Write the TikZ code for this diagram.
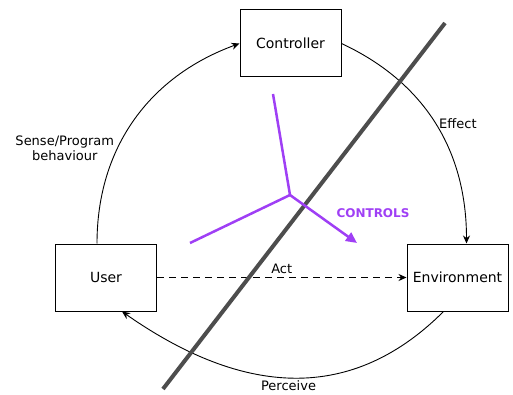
\documentclass[tikz,border=0pt]{standalone}
\usepackage{fontspec}
\setmainfont{DejaVu Sans}
\usetikzlibrary{arrows.meta}
\definecolor{ctlpurple}{HTML}{9F3FF5}
\definecolor{slashgray}{HTML}{4D4D4D}

\begin{document}
\begin{tikzpicture}[x=1pt,y=1pt,
    box/.style={draw,line width=1pt,minimum width=101pt,minimum height=67pt,
      inner sep=0pt,font=\fontsize{14}{16}\selectfont},
    lbl/.style={font=\fontsize{13}{15}\selectfont,align=center},
    flow/.style={line width=0.9pt,-{Stealth[length=8pt,width=7pt]}},
    ctl/.style={draw=ctlpurple,line width=2.5pt}]
    \useasboundingbox (0,0) rectangle (513,394);

    % the three boxes
    \foreach \name/\pos/\txt in {ctrl/{(290.5,350.5)}/Controller,
                                 user/{(106,116.5)}/User,
                                 env/{(457.5,116.5)}/Environment}
    {
      \node[box] (\name) at \pos {\txt};
    }

    % round the loop
    \draw[flow] ([xshift=-9pt]user.north) to[out=90,in=200]
      node[lbl,left,pos=.37] {Sense/Program\\behaviour} (ctrl.west);
    \draw[flow] (ctrl.east) to[out=-25,in=90]
      node[lbl,right,pos=.5] {Effect} ([xshift=9pt]env.north);
    \draw[flow] ([xshift=-14pt]env.south) to[out=-135,in=-35,looseness=1.1]
      node[lbl,below,inner sep=2pt,pos=.5] {Perceive} ([xshift=16pt]user.south);
    \draw[flow,dash pattern=on 7pt off 5pt] (user.east) --
      node[lbl,above,inner sep=3pt] {Act} (env.west);

    % the cut
    \coordinate (slashtop) at (445,371);
    \coordinate (slashbot) at (163,5);
    \draw[slashgray,line width=4pt] (slashbot) -- (slashtop);

    % controls
    \coordinate (hub) at (290,199);
    \coordinate (spoketop) at (273,300);
    \coordinate (spokeleft) at (190,151);
    \coordinate (spokeout) at (357,151);
    \foreach \spoke in {spoketop,spokeleft}
      \draw[ctl] (hub) -- (\spoke);
    \draw[ctl,-{Triangle[length=11pt,width=10pt]}] (hub) -- (spokeout);
    \node[text=ctlpurple,font=\bfseries\fontsize{12}{14}\selectfont]
      (controls) at (373,181) {CONTROLS};
\end{tikzpicture}
\end{document}
